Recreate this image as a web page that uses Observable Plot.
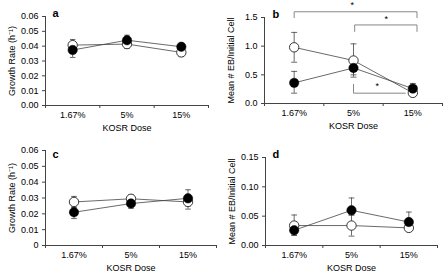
<!DOCTYPE html>
<html><head><meta charset="utf-8">
<script src="https://cdn.jsdelivr.net/npm/d3@7"></script>
<script src="https://cdn.jsdelivr.net/npm/@observablehq/plot@0.6"></script>
<style>
html,body{margin:0;padding:0;background:#fff;}
#wrap{position:relative;width:443px;height:277px;overflow:hidden;background:#fff;}
#wrap>div{position:absolute;}
svg{overflow:visible;}
</style></head><body>
<div id="wrap"><div id="pa"></div><div id="pb"></div><div id="pc"></div><div id="pd"></div></div>
<script>
const categories = ["1.67%", "5%", "15%"];

// Panel a: growth rate
const aOpen = [0.0407, 0.0414, 0.0358];
const aOpenLo = [0.037, 0.0385, 0.033];
const aOpenHi = [0.0445, 0.044, 0.0385];
const aFilled = [0.0374, 0.044, 0.0396];
const aFilledLo = [0.0324, 0.041, 0.037];
const aFilledHi = [0.041, 0.0474, 0.0414];

// Panel b: mean # EB / initial cell
const bOpen = [0.98, 0.75, 0.185];
const bOpenLo = [0.72, 0.46, 0.16];
const bOpenHi = [1.24, 1.04, 0.22];
const bFilled = [0.36, 0.62, 0.26];
const bFilledLo = [0.18, 0.50, 0.19];
const bFilledHi = [0.56, 0.70, 0.35];

// Panel c: growth rate
const cOpen = [0.0275, 0.0295, 0.0275];
const cOpenLo = [0.024, 0.027, 0.023];
const cOpenHi = [0.031, 0.032, 0.031];
const cFilled = [0.021, 0.0265, 0.0298];
const cFilledLo = [0.017, 0.0235, 0.025];
const cFilledHi = [0.025, 0.030, 0.0352];

// Panel d: mean # EB / initial cell
const dOpen = [0.034, 0.034, 0.030];
const dOpenLo = [0.018, 0.016, 0.025];
const dOpenHi = [0.052, 0.052, 0.035];
const dFilled = [0.026, 0.060, 0.040];
const dFilledLo = [0.017, 0.052, 0.025];
const dFilledHi = [0.033, 0.081, 0.057];

// Significance brackets in panel b (x in category index, y in data units)
const bBrackets = [
  {x1: 0, x2: 2.07, y: 1.6, yEnd1: 1.49, yEnd2: 1.49, sx: 0.98, sy: 1.72},
  {x1: 1.02, x2: 2.07, y: 1.37, yEnd1: 1.25, yEnd2: 1.25, sx: 1.55, sy: 1.47},
  {x1: 1.0, x2: 1.88, y: 0.18, yEnd1: 0.34, yEnd2: null, sx: 1.40, sy: 0.30}
];

const yLabelGrowth = "Growth Rate (h\u207B\u00B9)";
const yLabelEB = "Mean # EB/Initial Cell";

function rows(mean, lo, hi) {
  return mean.map((m, i) => ({i, m, lo: lo[i], hi: hi[i]}));
}

function panel(o) {
  const open = rows(o.open, o.openLo, o.openHi);
  const filled = rows(o.filled, o.filledLo, o.filledHi);
  const cap = 0.05;
  const axisColor = "#444";
  const marks = [
    Plot.axisY({ticks: o.yTicks, tickFormat: o.yFormat, tickSize: 3, tickPadding: 4, stroke: axisColor, label: null, fontSize: 9}),
    Plot.axisX({ticks: [0, 1, 2], tickFormat: i => categories[i], tickSize: 0, tickPadding: 6, label: null, fontSize: 9}),
    Plot.axisX({ticks: [-0.5, 0.5, 1.5, 2.5], tickFormat: () => "", tickSize: 3, stroke: axisColor, label: null}),
    Plot.ruleX([-0.5], {stroke: axisColor}),
    Plot.ruleY([o.yDomain[0]], {stroke: axisColor}),
    Plot.text([o.yLabel], {text: d => d, frameAnchor: "left", textAnchor: "middle", rotate: -90, dx: -33, fontSize: 9, fill: "#000"}),
    Plot.text(["KOSR Dose"], {text: d => d, frameAnchor: "bottom", textAnchor: "middle", dy: 23, lineAnchor: "middle", fontSize: 9, fill: "#000"}),
    Plot.text([o.letter], {text: d => d, frameAnchor: "top-left", textAnchor: "start", lineAnchor: "middle", dx: o.ldx, dy: o.ldy, fontSize: 11, fontWeight: "bold", fill: "#000"})
  ];
  for (const s of [open, filled]) {
    marks.push(Plot.ruleX(s, {x: "i", y1: "lo", y2: "hi", stroke: "#444", strokeWidth: 0.8}));
    marks.push(Plot.link(s, {x1: d => d.i - cap, x2: d => d.i + cap, y1: "lo", y2: "lo", stroke: "#444", strokeWidth: 0.8}));
    marks.push(Plot.link(s, {x1: d => d.i - cap, x2: d => d.i + cap, y1: "hi", y2: "hi", stroke: "#444", strokeWidth: 0.8}));
  }
  marks.push(Plot.line(open, {x: "i", y: "m", stroke: "#444", strokeWidth: 0.8}));
  marks.push(Plot.line(filled, {x: "i", y: "m", stroke: "#444", strokeWidth: 0.8}));
  marks.push(Plot.dot(open, {x: "i", y: "m", r: 4.7, fill: "#fff", stroke: "#222", strokeWidth: 0.9}));
  marks.push(Plot.dot(filled, {x: "i", y: "m", r: 4.7, fill: "#000", stroke: "#000", strokeWidth: 0.5}));
  if (o.brackets) {
    const br = o.brackets;
    const bc = "#888";
    marks.push(Plot.link(br, {x1: "x1", x2: "x2", y1: "y", y2: "y", stroke: bc, strokeWidth: 1}));
    marks.push(Plot.link(br, {x1: "x1", x2: "x1", y1: "y", y2: "yEnd1", stroke: bc, strokeWidth: 1}));
    marks.push(Plot.link(br.filter(d => d.yEnd2 != null), {x1: "x2", x2: "x2", y1: "y", y2: "yEnd2", stroke: bc, strokeWidth: 1}));
    marks.push(Plot.text(br, {x: "sx", y: "sy", text: () => "*", fontSize: 9, fill: "#000"}));
  }
  return Plot.plot({
    width: o.width, height: o.height,
    marginLeft: o.ml, marginRight: o.mr, marginTop: o.mt, marginBottom: o.mb,
    style: {fontFamily: "'Liberation Sans', Arial, Helvetica, sans-serif", fontSize: "9px", color: "#000", background: "transparent", overflow: "visible"},
    x: {type: "linear", domain: [-0.5, 2.5]},
    y: {domain: o.yDomain},
    marks
  });
}

const f2 = d3.format(".2f");
const f1 = d3.format(".1f");

const pa = panel({open: aOpen, openLo: aOpenLo, openHi: aOpenHi, filled: aFilled, filledLo: aFilledLo, filledHi: aFilledHi,
  yDomain: [0, 0.06], yTicks: [0, 0.01, 0.02, 0.03, 0.04, 0.05, 0.06], yFormat: f2, yLabel: yLabelGrowth, letter: "a",
  width: 222, height: 138, ml: 45, mr: 14, mt: 16, mb: 33, ldx: 7, ldy: -3});
const pb = panel({open: bOpen, openLo: bOpenLo, openHi: bOpenHi, filled: bFilled, filledLo: bFilledLo, filledHi: bFilledHi,
  yDomain: [0, 1.5], yTicks: [0, 0.5, 1.0, 1.5], yFormat: f1, yLabel: yLabelEB, letter: "b", brackets: bBrackets,
  width: 221, height: 138, ml: 42, mr: 1, mt: 17, mb: 35, ldx: 8, ldy: -3.5});
const pc = panel({open: cOpen, openLo: cOpenLo, openHi: cOpenHi, filled: cFilled, filledLo: cFilledLo, filledHi: cFilledHi,
  yDomain: [0, 0.06], yTicks: [0, 0.01, 0.02, 0.03, 0.04, 0.05, 0.06], yFormat: d => d === 0 ? "0" : f2(d), yLabel: yLabelGrowth, letter: "c",
  width: 222, height: 139, ml: 45, mr: 6, mt: 12, mb: 32, ldx: 7, ldy: 3.5});
const pd = panel({open: dOpen, openLo: dOpenLo, openHi: dOpenHi, filled: dFilled, filledLo: dFilledLo, filledHi: dFilledHi,
  yDomain: [0, 0.15], yTicks: [0, 0.05, 0.10, 0.15], yFormat: f2, yLabel: yLabelEB, letter: "d",
  width: 221, height: 139, ml: 43, mr: 6, mt: 19, mb: 32, ldx: 7, ldy: -3.5});

const place = (id, el, left, top) => { const d = document.getElementById(id); d.style.left = left + "px"; d.style.top = top + "px"; d.appendChild(el); };
place("pa", pa, 0, 0);
place("pb", pb, 222, 0);
place("pc", pc, 0, 138);
place("pd", pd, 222, 138);
</script>
</body></html>
